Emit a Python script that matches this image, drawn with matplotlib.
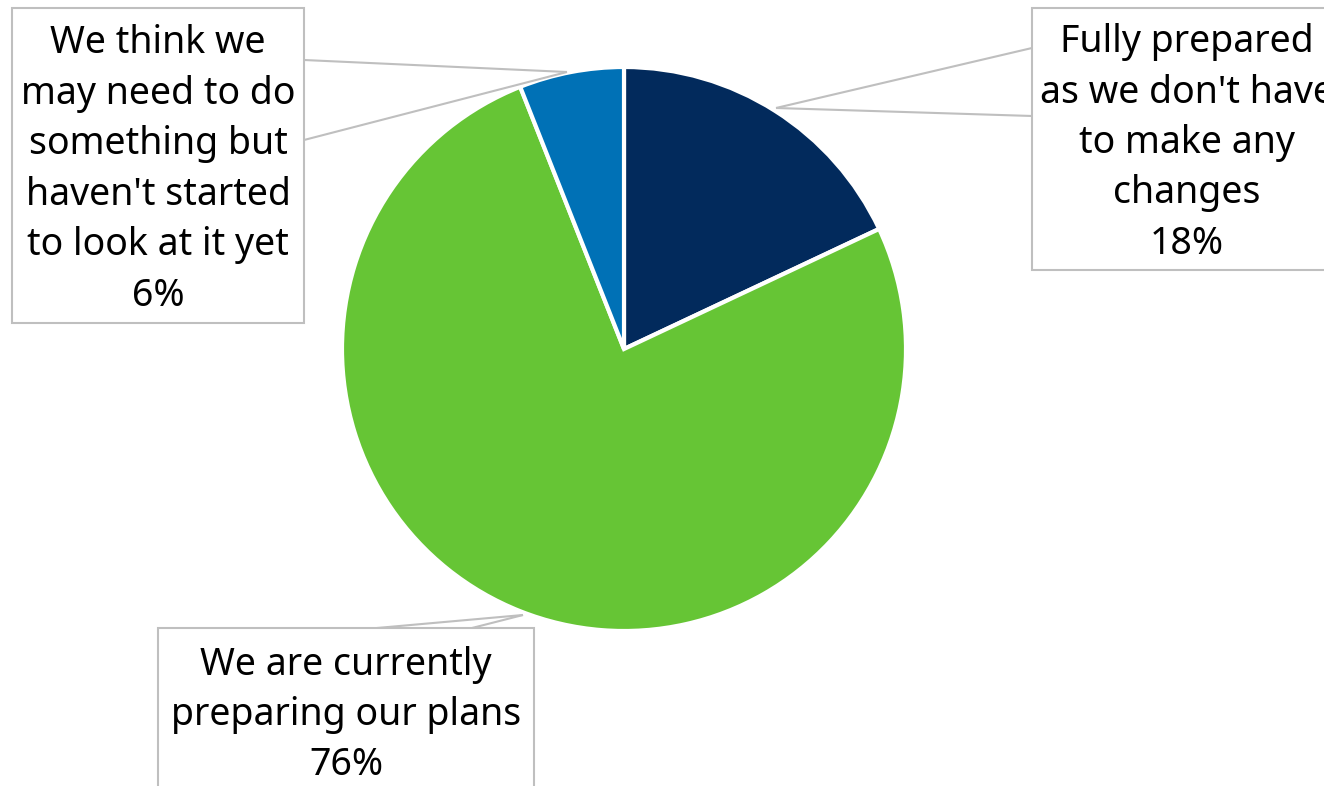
import matplotlib.pyplot as plt
from matplotlib.patches import Rectangle

# Survey responses
categories = [
    "Fully prepared\nas we don't have\nto make any\nchanges",
    "We are currently\npreparing our plans",
    "We think we\nmay need to do\nsomething but\nhaven't started\nto look at it yet",
]
shares = [18, 76, 6]
colors = ["#022A5C", "#66C535", "#0071B6"]

W, H = 1324, 786
fig = plt.figure(figsize=(W / 100, H / 100), dpi=100)
ax = fig.add_axes([0, 0, 1, 1])
ax.set_xlim(0, W)
ax.set_ylim(0, H)
ax.set_aspect("equal")
ax.axis("off")


def fy(y):
    # pixel row (from top) to axes y
    return H - y


cx, cy, r = 624, 349, 282
ax.pie(shares, colors=colors, startangle=90, counterclock=False,
       center=(cx, fy(cy)), radius=r, frame=True,
       wedgeprops=dict(edgecolor="white", linewidth=3))
ax.set_xlim(0, W)
ax.set_ylim(0, H)
ax.axis("off")

# Callout boxes: (x0, y0, x1, y1), anchor point on pie, two attach points on box edge
callouts = [
    dict(box=(1032, 8, 1342, 270), tip=(776, 108), attach=[(1032, 48), (1032, 116)]),
    dict(box=(158, 628, 534, 794), tip=(523, 615), attach=[(377, 628), (472, 628)]),
    dict(box=(12, 8, 304, 323), tip=(567, 72), attach=[(304, 60), (304, 140)]),
]

gray = "#BFBFBF"
for cat, val, c in zip(categories, shares, callouts):
    x0, y0, x1, y1 = c["box"]
    tx, ty = c["tip"]
    for (axp, ayp) in c["attach"]:
        ax.plot([tx, axp], [fy(ty), fy(ayp)], color=gray, lw=1.5,
                solid_capstyle="butt", zorder=3)
    ax.add_patch(Rectangle((x0, fy(y1)), x1 - x0, y1 - y0, facecolor="white",
                           edgecolor=gray, lw=1.5, zorder=4))
    ax.text((x0 + x1) / 2, fy((y0 + y1) / 2 + 4), f"{cat}\n{val}%",
            ha="center", va="center", multialignment="center",
            fontsize=27, family=["Noto Sans", "DejaVu Sans"],
            color="black", linespacing=1.43, zorder=5)

fig.savefig("out.png", dpi=100)
